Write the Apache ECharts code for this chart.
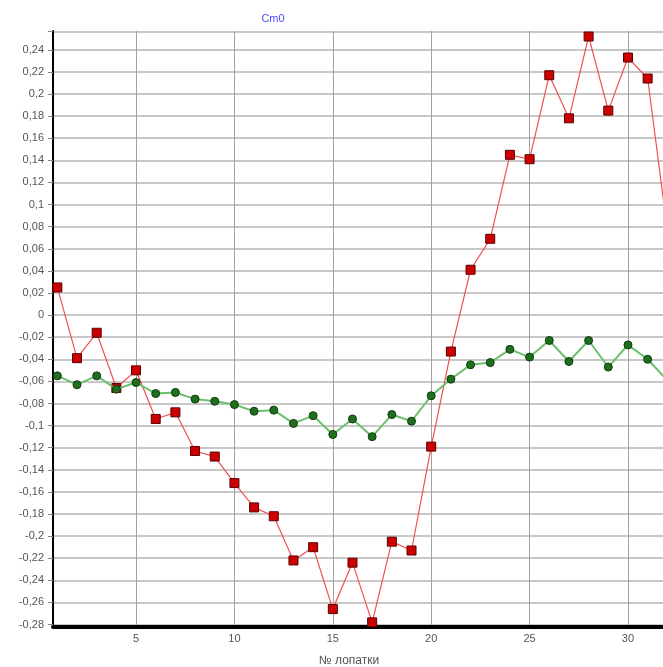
<!DOCTYPE html>
<html>
<head>
<meta charset="utf-8">
<script src="https://cdn.jsdelivr.net/npm/echarts@6/dist/echarts.min.js"></script>
<style>html,body{margin:0;padding:0;background:#fff;}#c{width:663px;height:667px;}</style>
</head>
<body>
<div id="c"></div>
<script>
var blades = [1,2,3,4,5,6,7,8,9,10,11,12,13,14,15,16,17,18,19,20,21,22,23,24,25,26,27,28,29,30,31,32];
var redValues = [0.025,-0.039,-0.016,-0.066,-0.050,-0.094,-0.088,-0.123,-0.128,-0.152,-0.174,-0.182,-0.222,-0.210,-0.266,-0.224,-0.278,-0.205,-0.213,-0.119,-0.033,0.041,0.069,0.145,0.141,0.217,0.178,0.252,0.185,0.233,0.214,0.077];
var greenValues = [-0.055,-0.063,-0.055,-0.067,-0.061,-0.071,-0.070,-0.076,-0.078,-0.081,-0.087,-0.086,-0.098,-0.091,-0.108,-0.094,-0.110,-0.090,-0.096,-0.073,-0.058,-0.045,-0.043,-0.031,-0.038,-0.023,-0.042,-0.023,-0.047,-0.027,-0.040,-0.059];
var xTicks = [5,10,15,20,25,30];
var yTicks = [-0.28,-0.26,-0.24,-0.22,-0.2,-0.18,-0.16,-0.14,-0.12,-0.1,-0.08,-0.06,-0.04,-0.02,0,0.02,0.04,0.06,0.08,0.1,0.12,0.14,0.16,0.18,0.2,0.22,0.24];
var yTop = 0.2565;
var titleText = 'Cm0';
var xName = '№ лопатки';

function pairs(xs, ys){ return xs.map(function(x,i){ return [x, ys[i]]; }); }

var chart = echarts.init(document.getElementById('c'), null, {renderer:'canvas'});
chart.setOption({
  backgroundColor:'#ffffff',
  animation:false,
  title:[
    {text:titleText, left:268, top:8, textAlign:'center',
     textStyle:{color:'#4a4aff', fontSize:11, fontWeight:'normal', fontFamily:'Liberation Sans, Arial, sans-serif'}},
    {text:xName, left:344, top:650, textAlign:'center',
     textStyle:{color:'#555', fontSize:12, fontWeight:'normal', fontFamily:'Liberation Sans, Arial, sans-serif'}}
  ],
  grid:{left:53, right:0, top:31, bottom:40, show:false},
  xAxis:{
    type:'value', min:0.78, max:31.78,
    axisLine:{show:true, onZero:false, lineStyle:{color:'#000', width:4}},
    axisTick:{show:false, customValues:xTicks},
    axisLabel:{customValues:xTicks, color:'#555', fontSize:11, margin:6, fontFamily:'Liberation Sans, Arial, sans-serif'},
    splitLine:{show:true, lineStyle:{color:'#a0a0a0', width:1}}
  },
  yAxis:{
    type:'value', min:-0.2822, max:0.257,
    axisLine:{show:true, onZero:false, lineStyle:{color:'#000', width:2}},
    axisTick:{show:true, length:5, customValues:yTicks.concat([yTop]), lineStyle:{color:'#888'}},
    axisLabel:{customValues:yTicks, color:'#555', fontSize:11, margin:9, fontFamily:'Liberation Sans, Arial, sans-serif',
      formatter:function(v){ return String(Math.round(v*100)/100).replace('.', ','); }},
    splitLine:{show:true, lineStyle:{color:'#c8c8c8', width:2}}
  },
  series:[
    {type:'line', data:pairs(blades, redValues), symbol:'rect', symbolSize:9, clip:true,
     lineStyle:{color:'#f05050', width:1.2},
     itemStyle:{color:'#cc0000', borderColor:'#5a0000', borderWidth:1}, z:3},
    {type:'line', data:pairs(blades, greenValues), symbol:'circle', symbolSize:8, clip:true,
     lineStyle:{color:'#6cbf6c', width:2},
     itemStyle:{color:'#1f6f1f', borderColor:'#0c3c0c', borderWidth:1}, z:4}
  ]
});
</script>
</body>
</html>
